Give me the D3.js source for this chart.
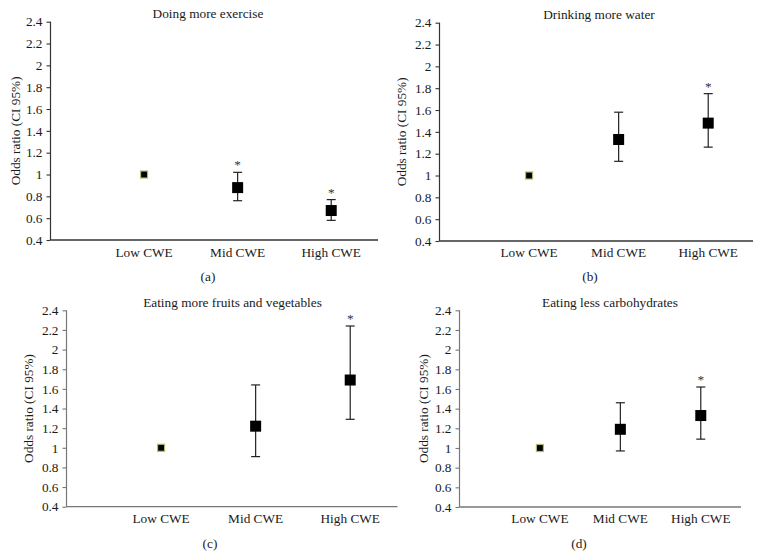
<!DOCTYPE html>
<html>
<head>
<meta charset="utf-8">
<script src="https://cdn.jsdelivr.net/npm/d3@7"></script>
<style>
  html, body { margin: 0; padding: 0; background: #fff; }
  svg { display: block; }
</style>
</head>
<body>
<svg id="chart" width="761" height="558"></svg>
<script>
// ---- data ----
const categories = ["Low CWE", "Mid CWE", "High CWE"];
const yTicks = [0.4, 0.6, 0.8, 1, 1.2, 1.4, 1.6, 1.8, 2, 2.2, 2.4];
const titles = ["Doing more exercise", "Drinking more water", "Eating more fruits and vegetables", "Eating less carbohydrates"];
const panelLetters = ["(a)", "(b)", "(c)", "(d)"];

const exerciseOR = [1.00, 0.88, 0.67];
const exerciseLo = [1.00, 0.76, 0.58];
const exerciseHi = [1.00, 1.02, 0.77];
const exerciseSig = [false, true, true];

const waterOR = [1.00, 1.33, 1.48];
const waterLo = [1.00, 1.13, 1.26];
const waterHi = [1.00, 1.58, 1.75];
const waterSig = [false, false, true];

const fruitOR = [1.00, 1.22, 1.69];
const fruitLo = [1.00, 0.91, 1.29];
const fruitHi = [1.00, 1.64, 2.24];
const fruitSig = [false, false, true];

const carbOR = [1.00, 1.19, 1.33];
const carbLo = [1.00, 0.97, 1.09];
const carbHi = [1.00, 1.46, 1.62];
const carbSig = [false, false, true];

const series = [
  { or: exerciseOR, lo: exerciseLo, hi: exerciseHi, sig: exerciseSig },
  { or: waterOR, lo: waterLo, hi: waterHi, sig: waterSig },
  { or: fruitOR, lo: fruitLo, hi: fruitHi, sig: fruitSig },
  { or: carbOR, lo: carbLo, hi: carbHi, sig: carbSig }
];

// ---- layout (pixels) ----
const layout = [
  { x0: 50.5, x1: 378, yTop: 21.7, yBot: 240, titleX: 208, titleY: 17.5, ylabX: 15, xlabY: 257, letterX: 208, letterY: 281, axisColor: "#333" },
  { x0: 439.5, x1: 753, yTop: 22.7, yBot: 241, titleX: 599, titleY: 18.5, ylabX: 401, xlabY: 256.5, letterX: 590, letterY: 281, axisColor: "#333" },
  { x0: 66.5, x1: 397.5, yTop: 310.3, yBot: 506.7, titleX: 232.5, titleY: 306.5, ylabX: 28.5, xlabY: 522.5, letterX: 210, letterY: 548, axisColor: "#777" },
  { x0: 459.5, x1: 741, yTop: 310.3, yBot: 507, titleX: 610, titleY: 306.5, ylabX: 423, xlabY: 522.5, letterX: 579, letterY: 548, axisColor: "#777" }
];

const FONT = "Liberation Serif";
const svg = d3.select("#chart");
const textColor = "#1a1a1a";
const fs = 13.3;

function txt(sel) {
  return sel.append("text").attr("font-family", FONT).attr("font-size", fs).attr("fill", textColor);
}

layout.forEach((L, i) => {
  const s = series[i];
  const g = svg.append("g");
  const x = d3.scaleLinear().domain([0, 3.5]).range([L.x0, L.x1]);
  const y = d3.scaleLinear().domain([0.4, 2.4]).range([L.yBot, L.yTop]);

  // y axis
  const yAxis = d3.axisLeft(y).tickValues(yTicks).tickSize(4).tickPadding(4)
    .tickFormat(d => String(+d.toFixed(1)));
  const ya = g.append("g").attr("transform", `translate(${L.x0},0)`).call(yAxis)
    .attr("font-family", FONT).attr("font-size", fs);
  ya.select(".domain").attr("stroke", L.axisColor).attr("stroke-width", 1.2).attr("d", `M0,${L.yTop}V${L.yBot}`);
  ya.selectAll(".tick line").attr("stroke", L.axisColor).attr("stroke-width", 1.1);
  ya.selectAll(".tick text").attr("fill", textColor).attr("font-size", fs).attr("font-family", FONT);

  // x axis (no ticks)
  g.append("line")
    .attr("x1", L.x0).attr("x2", L.x1).attr("y1", L.yBot).attr("y2", L.yBot)
    .attr("stroke", L.axisColor).attr("stroke-width", 1.3);

  categories.forEach((c, j) => {
    txt(g).attr("x", x(j + 1)).attr("y", L.xlabY).attr("text-anchor", "middle").text(c);
  });

  // title
  txt(g).attr("x", L.titleX).attr("y", L.titleY).attr("text-anchor", "middle").text(titles[i]);

  // y label
  const ym = (L.yTop + L.yBot) / 2;
  txt(g).attr("transform", `translate(${L.ylabX + 4.5},${ym}) rotate(-90)`)
    .attr("text-anchor", "middle").text("Odds ratio (CI 95%)");

  // panel letter
  txt(g).attr("x", L.letterX).attr("y", L.letterY).attr("text-anchor", "middle").text(panelLetters[i]);

  // error bars + markers
  s.or.forEach((v, j) => {
    const cx = x(j + 1);
    if (j > 0) {
      g.append("line").attr("x1", cx).attr("x2", cx).attr("y1", y(s.lo[j])).attr("y2", y(s.hi[j]))
        .attr("stroke", "#222").attr("stroke-width", 1.2);
      [s.lo[j], s.hi[j]].forEach(e => {
        g.append("line").attr("x1", cx - 4.5).attr("x2", cx + 4.5).attr("y1", y(e)).attr("y2", y(e))
          .attr("stroke", "#222").attr("stroke-width", 1.2);
      });
      g.append("rect").attr("x", cx - 5.5).attr("y", y(v) - 5.5).attr("width", 11).attr("height", 11)
        .attr("fill", "#000");
    } else {
      g.append("rect").attr("x", cx - 3.5).attr("y", y(v) - 3.5).attr("width", 7).attr("height", 7)
        .attr("fill", "#000").attr("stroke", "#b5b86a").attr("stroke-width", 1.2);
    }
    if (s.sig[j]) {
      txt(g).attr("x", cx).attr("y", y(s.hi[j]) - 3).attr("text-anchor", "middle")
        .attr("fill", "#333").text("*");
    }
  });
});
</script>
</body>
</html>
